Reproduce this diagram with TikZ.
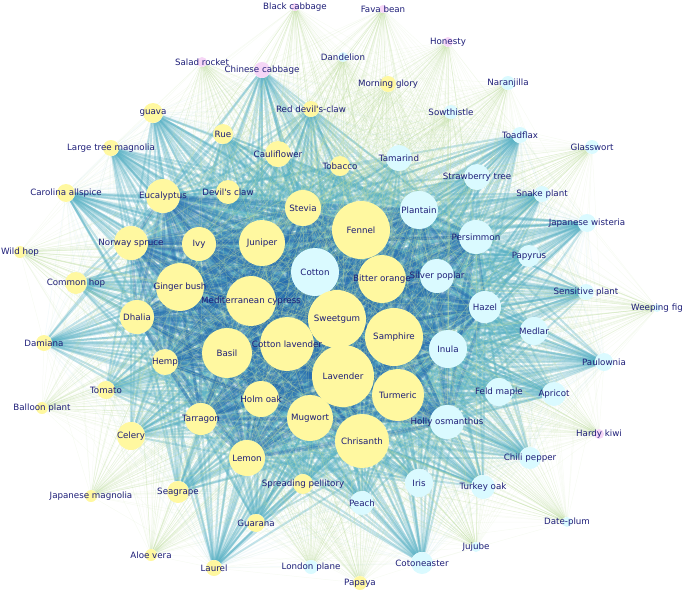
\documentclass[tikz,border=0pt]{standalone}
\usepackage{fontspec}
\usepackage{tikz}
\usetikzlibrary{backgrounds}
\newfontfamily\labelfont{DejaVu Sans}
\definecolor{plantyellow}{RGB}{255,248,160}
\definecolor{plantcyan}{RGB}{218,250,255}
\definecolor{plantpink}{RGB}{246,214,246}
\definecolor{labelblue}{RGB}{30,30,120}
\definecolor{coreblue}{RGB}{38,108,175}
\definecolor{midteal}{RGB}{85,175,195}
\definecolor{outgreen}{RGB}{190,220,160}
\def\corelist{fennel,cotton,bitter,sweetgum,samphire,lavender,turmeric,chrisanth,mugwort,cotlav,basil,medcyp,ginger,juniper,holmoak,stevia,ivy,plantain,persimmon,silverpop,inula,hollyosm,hazel,eucalyptus,norway,dhalia,hemp,tarragon,lemon}
\def\midlist{guava,rue,largetree,cauliflower,tobacco,carolina,devilsclaw,commonhop,damiana,tomato,celery,seagrape,guarana,laurel,spreading,peach,iris,turkeyoak,cotoneaster,chili,feldmaple,apricot,medlar,paulownia,sensitive,papyrus,japwist,snake,strawberry,toadflax,tamarind,reddevil,chinesecab}
\def\outlist{blackcab,favabean,honesty,dandelion,saladrocket,morningglory,naranjilla,sowthistle,glasswort,weepingfig,hardykiwi,dateplum,jujube,papaya,londonplane,aloevera,japmag,balloon,wildhop}
\begin{document}
\begin{tikzpicture}[x=1pt, y=-1pt,
      every node/.append style={font=\labelfont\fontsize{8.7}{10}\selectfont, text=labelblue},
      every label/.append style={inner sep=0pt}]
    \tikzstyle{yel} = [circle, fill=plantyellow, inner sep=0pt]
    \tikzstyle{cya} = [circle, fill=plantcyan, inner sep=0pt]
    \tikzstyle{pnk} = [circle, fill=plantpink, inner sep=0pt]
    \tikzstyle{coretie} = [draw=coreblue, opacity=.33, line width=3pt]
    \tikzstyle{midtie} = [draw=midteal, opacity=.34, line width=2pt]
    \tikzstyle{sidetie} = [draw=midteal!55, opacity=.1, line width=.8pt]
    \tikzstyle{outtie} = [draw=outgreen, opacity=.3, line width=.5pt]
    \useasboundingbox (0,0) rectangle (685,594);
    % core
    \node (fennel) [yel, minimum size=58] at (361,230) [label=center:Fennel] {};
    \node (cotton) [cya, minimum size=48] at (315,272) [label=center:Cotton] {};
    \node (bitter) [yel, minimum size=48] at (382,279) [label=center:Bitter orange] {};
    \node (sweetgum) [yel, minimum size=58] at (337,319) [label=center:Sweetgum] {};
    \node (samphire) [yel, minimum size=58] at (394,337) [label=center:Samphire] {};
    \node (lavender) [yel, minimum size=62] at (343,376) [label=center:Lavender] {};
    \node (turmeric) [yel, minimum size=52] at (398,395) [label=center:Turmeric] {};
    \node (chrisanth) [yel, minimum size=54] at (362,441) [label=center:Chrisanth] {};
    \node (mugwort) [yel, minimum size=46] at (310,418) [label=center:Mugwort] {};
    \node (cotlav) [yel, minimum size=54] at (287,344) [label=center:Cotton lavender] {};
    \node (basil) [yel, minimum size=50] at (227,353) [label=center:Basil] {};
    \node (medcyp) [yel, minimum size=50] at (251,301) [label=center:Mediterranean cypress] {};
    \node (ginger) [yel, minimum size=48] at (180,287) [label=center:Ginger bush] {};
    \node (juniper) [yel, minimum size=46] at (262,243) [label=center:Juniper] {};
    \node (holmoak) [yel, minimum size=36] at (261,399) [label=center:Holm oak] {};
    \node (stevia) [yel, minimum size=36] at (303,208) [label=center:Stevia] {};
    \node (ivy) [yel, minimum size=34] at (199,244) [label=center:Ivy] {};
    \node (plantain) [cya, minimum size=38] at (419,210) [label=center:Plantain] {};
    \node (persimmon) [cya, minimum size=34] at (476,237) [label=center:Persimmon] {};
    \node (silverpop) [cya, minimum size=34] at (437,276) [label=center:Silver poplar] {};
    \node (inula) [cya, minimum size=38] at (448,349) [label=center:Inula] {};
    \node (hollyosm) [cya, minimum size=34] at (447,422) [label=center:Holly osmanthus] {};
    \node (hazel) [cya, minimum size=32] at (485,307) [label=center:Hazel] {};
    \node (eucalyptus) [yel, minimum size=34] at (163,196) [label=center:Eucalyptus] {};
    \node (norway) [yel, minimum size=34] at (131,243) [label=center:Norway spruce] {};
    \node (dhalia) [yel, minimum size=34] at (137,317) [label=center:Dhalia] {};
    \node (hemp) [yel, minimum size=26] at (165,362) [label=center:Hemp] {};
    \node (tarragon) [yel, minimum size=32] at (201,419) [label=center:Tarragon] {};
    \node (lemon) [yel, minimum size=36] at (247,458) [label=center:Lemon] {};
    % middle ring
    \node (guava) [yel, minimum size=20] at (153,113) [label=center:guava] {};
    \node (rue) [yel, minimum size=20] at (223,134) [label=center:Rue] {};
    \node (largetree) [yel, minimum size=16] at (111,148) [label=center:Large tree magnolia] {};
    \node (cauliflower) [yel, minimum size=26] at (278,154) [label=center:Cauliflower] {};
    \node (tobacco) [yel, minimum size=20] at (340,166) [label=center:Tobacco] {};
    \node (carolina) [yel, minimum size=18] at (66,193) [label=center:Carolina allspice] {};
    \node (devilsclaw) [yel, minimum size=24] at (228,192) [label=center:Devil's claw] {};
    \node (commonhop) [yel, minimum size=22] at (76,283) [label=center:Common hop] {};
    \node (damiana) [yel, minimum size=16] at (44,343) [label=center:Damiana] {};
    \node (tomato) [yel, minimum size=18] at (106,390) [label=center:Tomato] {};
    \node (celery) [yel, minimum size=28] at (131,436) [label=center:Celery] {};
    \node (seagrape) [yel, minimum size=22] at (178,492) [label=center:Seagrape] {};
    \node (guarana) [yel, minimum size=18] at (256,523) [label=center:Guarana] {};
    \node (laurel) [yel, minimum size=16] at (214,568) [label=center:Laurel] {};
    \node (spreading) [yel, minimum size=20] at (303,484) [label=center:Spreading pellitory] {};
    \node (peach) [cya, minimum size=24] at (362,503) [label=center:Peach] {};
    \node (iris) [cya, minimum size=28] at (419,483) [label=center:Iris] {};
    \node (turkeyoak) [cya, minimum size=24] at (483,487) [label=center:Turkey oak] {};
    \node (cotoneaster) [cya, minimum size=22] at (422,563) [label=center:Cotoneaster] {};
    \node (chili) [cya, minimum size=22] at (530,458) [label=center:Chili pepper] {};
    \node (feldmaple) [cya, minimum size=28] at (499,392) [label=center:Feld maple] {};
    \node (apricot) [cya, minimum size=24] at (554,394) [label=center:Apricot] {};
    \node (medlar) [cya, minimum size=28] at (534,331) [label=center:Medlar] {};
    \node (paulownia) [cya, minimum size=18] at (604,362) [label=center:Paulownia] {};
    \node (sensitive) [cya, minimum size=16] at (586,292) [label=center:Sensitive plant] {};
    \node (papyrus) [cya, minimum size=22] at (529,256) [label=center:Papyrus] {};
    \node (japwist) [cya, minimum size=18] at (587,223) [label=center:Japanese wisteria] {};
    \node (snake) [cya, minimum size=16] at (542,194) [label=center:Snake plant] {};
    \node (strawberry) [cya, minimum size=26] at (477,177) [label=center:Strawberry tree] {};
    \node (toadflax) [cya, minimum size=16] at (520,135) [label=center:Toadflax] {};
    \node (tamarind) [cya, minimum size=26] at (399,158) [label=center:Tamarind] {};
    \node (reddevil) [yel, minimum size=16] at (311,109) [label=center:Red devil's-claw] {};
    \node (chinesecab) [pnk, minimum size=16] at (262,70) [label=center:Chinese cabbage] {};
    % outer ring
    \node (blackcab) [pnk, minimum size=8] at (295,7) [label=center:Black cabbage] {};
    \node (favabean) [pnk, minimum size=8] at (383,9) [label=center:Fava bean] {};
    \node (honesty) [pnk, minimum size=10] at (448,42) [label=center:Honesty] {};
    \node (dandelion) [cya, minimum size=10] at (343,57) [label=center:Dandelion] {};
    \node (saladrocket) [pnk, minimum size=10] at (202,62) [label=center:Salad rocket] {};
    \node (morningglory) [yel, minimum size=16] at (388,84) [label=center:Morning glory] {};
    \node (naranjilla) [cya, minimum size=14] at (508,83) [label=center:Naranjilla] {};
    \node (sowthistle) [cya, minimum size=14] at (451,112) [label=center:Sowthistle] {};
    \node (glasswort) [cya, minimum size=14] at (592,147) [label=center:Glasswort] {};
    \node (weepingfig) [cya, minimum size=8] at (657,308) [label=center:Weeping fig] {};
    \node (hardykiwi) [pnk, minimum size=10] at (599,434) [label=center:Hardy kiwi] {};
    \node (dateplum) [cya, minimum size=10] at (567,522) [label=center:Date-plum] {};
    \node (jujube) [cya, minimum size=10] at (476,547) [label=center:Jujube] {};
    \node (papaya) [yel, minimum size=14] at (360,583) [label=center:Papaya] {};
    \node (londonplane) [cya, minimum size=14] at (311,567) [label=center:London plane] {};
    \node (aloevera) [yel, minimum size=12] at (151,555) [label=center:Aloe vera] {};
    \node (japmag) [yel, minimum size=12] at (91,496) [label=center:Japanese magnolia] {};
    \node (balloon) [yel, minimum size=12] at (42,408) [label=center:Balloon plant] {};
    \node (wildhop) [yel, minimum size=12] at (20,252) [label=center:Wild hop] {};
    % ties
    \begin{pgfonlayer}{background}
      \foreach \a in \outlist {
        \foreach \b in \midlist { \draw[outtie, opacity=.12] (\a) -- (\b); }
      }
      \foreach \a [count=\i] in \midlist {
        \foreach \b [count=\j] in \midlist {
          \ifnum\j>\i \draw[sidetie] (\a) -- (\b); \fi
        }
      }
      \foreach \a in \midlist {
        \foreach \b in \corelist { \draw[midtie] (\a) -- (\b); }
      }
      \foreach \a [count=\i] in \corelist {
        \foreach \b [count=\j] in \corelist {
          \ifnum\j>\i \draw[coretie] (\a) -- (\b); \fi
        }
      }
      \foreach \a in \outlist {
        \foreach \b in \corelist { \draw[outtie] (\a) -- (\b); }
      }
    \end{pgfonlayer}
\end{tikzpicture}
\end{document}
